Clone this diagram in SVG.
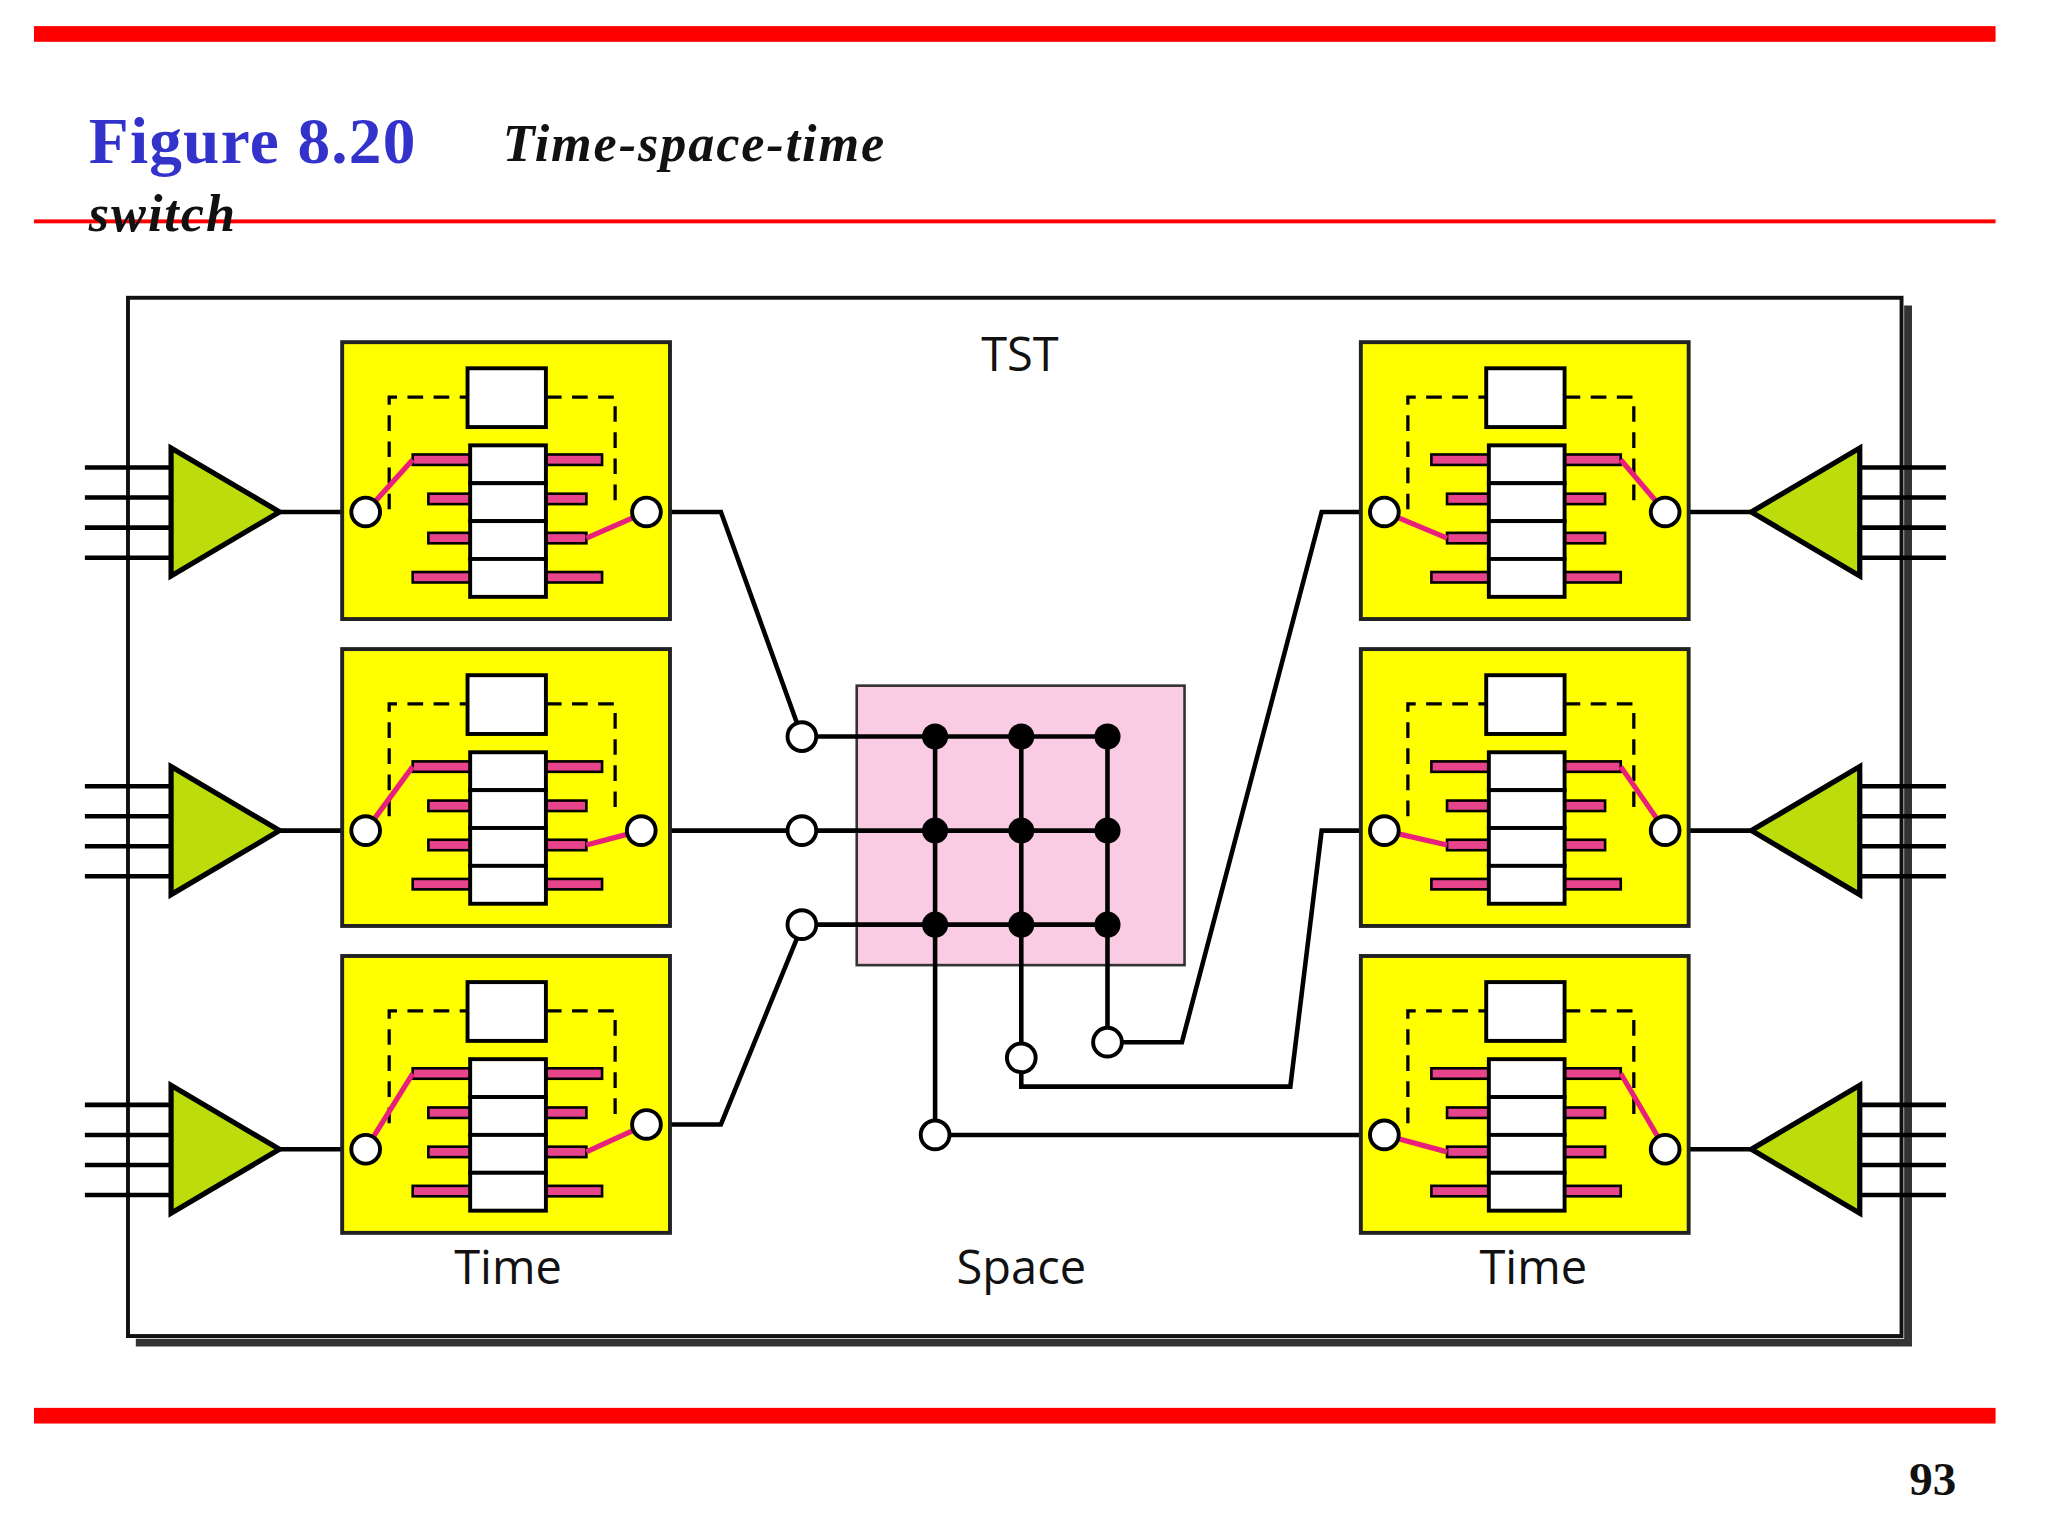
<svg xmlns="http://www.w3.org/2000/svg" xmlns:xlink="http://www.w3.org/1999/xlink" width="2048" height="1536" viewBox="0 0 2048 1536">
<style>
.k{stroke:#000;stroke-width:3.5;fill:none}
.w{fill:#fff;stroke:#000;stroke-width:3}
.y{fill:#ffff00;stroke:#222;stroke-width:3}
.b{fill:#e8448c;stroke:#000;stroke-width:2}
.p{stroke:#e8207c;stroke-width:4;fill:none}
.d{stroke:#000;stroke-width:2.5;fill:none;stroke-dasharray:12 8}
.t{fill:#bcdc0c;stroke:#000;stroke-width:4}
.lbl{font-family:"Open Sans","DejaVu Sans",sans-serif;font-size:36px;fill:#111;text-anchor:middle}
</style>
<defs>
<g id="core">
<rect class="y" x="0" y="0" width="251" height="212"/>
<path class="d" d="M36,128 V42 H96 M156,42 H209 V128"/>
<rect class="w" x="96" y="20" width="60" height="45"/>
<rect class="b" x="54" y="86" width="44" height="8"/><rect class="b" x="156" y="86" width="43" height="8"/>
<rect class="b" x="66" y="116" width="32" height="8"/><rect class="b" x="156" y="116" width="31" height="8"/>
<rect class="b" x="66" y="146" width="32" height="8"/><rect class="b" x="156" y="146" width="31" height="8"/>
<rect class="b" x="54" y="176" width="44" height="8"/><rect class="b" x="156" y="176" width="43" height="8"/>
<rect class="w" x="98" y="79" width="58" height="29"/><rect class="w" x="98" y="108" width="58" height="29"/>
<rect class="w" x="98" y="137" width="58" height="29"/><rect class="w" x="98" y="166" width="58" height="29"/>
</g>
<g id="ltri">
<path class="k" d="M-66,-34 H0 M-66,-11 H0 M-66,12 H0 M-66,35 H0 M83,0 H138"/>
<polygon class="t" points="0,-49 0,49 83,0"/>
</g>
<g id="rtri">
<path class="k" d="M0,-34 H66 M0,-11 H66 M0,12 H66 M0,35 H66 M-83,0 H-138"/>
<polygon class="t" points="0,-49 0,49 -83,0"/>
</g>
</defs>
<rect width="2048" height="1536" fill="#fff"/>
<g transform="scale(1.306)">
<g id="header">
<rect x="26" y="20" width="1502" height="12" fill="#ff0000"/>
<rect x="26" y="168" width="1502" height="3" fill="#ff0000"/>
<rect x="26" y="1078" width="1502" height="12" fill="#ff0000"/>
<text x="68" y="125" font-family="Liberation Serif,serif" font-weight="bold" font-size="50" fill="#3333cc" textLength="250">Figure 8.20</text>
<text x="385" y="123" font-family="Liberation Serif,serif" font-weight="bold" font-style="italic" font-size="40" fill="#111" textLength="292">Time-space-time</text>
<text x="68" y="177" font-family="Liberation Serif,serif" font-weight="bold" font-style="italic" font-size="40" fill="#111" textLength="112">switch</text>
<text x="1462" y="1145" font-family="Liberation Serif,serif" font-weight="bold" font-size="36" fill="#111">93</text>
</g>
<g id="frame">
<path d="M1461,234 V1028 H104" stroke="#333" stroke-width="6" fill="none"/>
<rect x="98" y="228" width="1358" height="795" fill="#fff" stroke="#111" stroke-width="3"/>
<text class="lbl" x="781" y="284">TST</text>
<text class="lbl" x="389" y="983">Time</text>
<text class="lbl" x="782" y="983">Space</text>
<text class="lbl" x="1174" y="983">Time</text>
</g>
<g id="connectors">
<path class="k" d="M506,392 H552 L610,553 M502,636 H603 M506,861 H552 L610,719"/>
<path class="k" d="M859,798 H905 L1012,392 H1049 M782,821 V832 H988 L1012,636 H1049 M727,869 H1049"/>
</g>
<g id="in1"><use xlink:href="#ltri" x="131" y="392"/></g>
<g id="in2"><use xlink:href="#ltri" x="131" y="636"/></g>
<g id="in3"><use xlink:href="#ltri" x="131" y="880"/></g>
<g id="out1"><use xlink:href="#rtri" x="1424" y="392"/></g>
<g id="out2"><use xlink:href="#rtri" x="1424" y="636"/></g>
<g id="out3"><use xlink:href="#rtri" x="1424" y="880"/></g>
<g id="t1" transform="translate(262,262)"><use xlink:href="#core"/>
<path class="p" d="M18,130 L54,90 M233,130 L187,150"/>
<circle class="w" cx="18" cy="130" r="11"/><circle class="w" cx="233" cy="130" r="11"/></g>
<g id="t2" transform="translate(262,497)"><use xlink:href="#core"/>
<path class="p" d="M18,139 L54,90 M229,139 L187,150"/>
<circle class="w" cx="18" cy="139" r="11"/><circle class="w" cx="229" cy="139" r="11"/></g>
<g id="t3" transform="translate(262,732)"><use xlink:href="#core"/>
<path class="p" d="M18,148 L54,90 M233,129 L187,150"/>
<circle class="w" cx="18" cy="148" r="11"/><circle class="w" cx="233" cy="129" r="11"/></g>
<g id="t4" transform="translate(1042,262)"><use xlink:href="#core"/>
<path class="p" d="M18,130 L66,150 M233,130 L199,90"/>
<circle class="w" cx="18" cy="130" r="11"/><circle class="w" cx="233" cy="130" r="11"/></g>
<g id="t5" transform="translate(1042,497)"><use xlink:href="#core"/>
<path class="p" d="M18,139 L66,150 M233,139 L199,90"/>
<circle class="w" cx="18" cy="139" r="11"/><circle class="w" cx="233" cy="139" r="11"/></g>
<g id="t6" transform="translate(1042,732)"><use xlink:href="#core"/>
<path class="p" d="M18,137 L66,150 M233,148 L199,90"/>
<circle class="w" cx="18" cy="137" r="11"/><circle class="w" cx="233" cy="148" r="11"/></g>
<g id="space">
<rect x="656" y="525" width="251" height="214" fill="#f9cce3" stroke="#333" stroke-width="2"/>
<path class="k" d="M625,564 H848 M625,636 H848 M625,708 H848 M716,564 V858 M782,564 V799 M848,564 V787"/>
<g fill="#000">
<circle cx="716" cy="564" r="10"/><circle cx="782" cy="564" r="10"/><circle cx="848" cy="564" r="10"/>
<circle cx="716" cy="636" r="10"/><circle cx="782" cy="636" r="10"/><circle cx="848" cy="636" r="10"/>
<circle cx="716" cy="708" r="10"/><circle cx="782" cy="708" r="10"/><circle cx="848" cy="708" r="10"/>
</g>
<circle class="w" cx="614" cy="564" r="11"/><circle class="w" cx="614" cy="636" r="11"/><circle class="w" cx="614" cy="708" r="11"/>
<circle class="w" cx="848" cy="798" r="11"/><circle class="w" cx="782" cy="810" r="11"/><circle class="w" cx="716" cy="869" r="11"/>
</g>
</g>
</svg>
